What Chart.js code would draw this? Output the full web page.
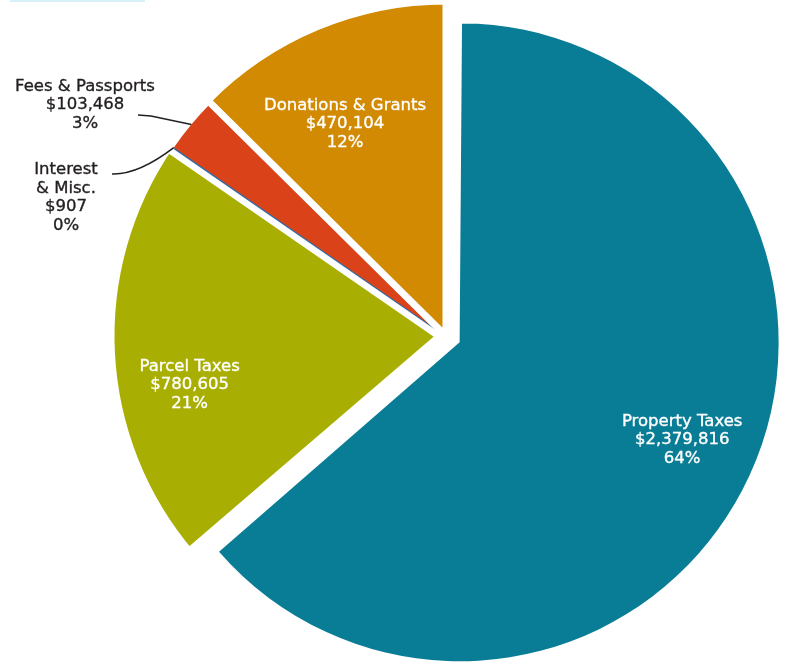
<!DOCTYPE html>
<html>
<head>
<meta charset="utf-8">
<script src="https://cdn.jsdelivr.net/npm/chart.js@4.4.1/dist/chart.umd.min.js"></script>
<style>
    html, body { margin: 0; padding: 0; background: #fff; }
    #wrap { position: relative; width: 788px; height: 662px; overflow: hidden; }
    #topbar { position: absolute; left: 10px; top: 0; width: 135px; height: 2px; background: #d6f2f8; }
</style>
</head>
<body>
<div id="wrap">
    <div id="topbar"></div>
    <canvas id="revenueChart" width="788" height="662"></canvas>
</div>
<script>
// Dữ liệu
const categories = ['Property Taxes', 'Parcel Taxes', 'Interest & Misc.', 'Fees & Passports', 'Donations & Grants'];
const amounts = [2379816, 780605, 907, 103468, 470104];
const percentLabels = ['64%', '21%', '0%', '3%', '12%'];

// Màu và kiểu
const sliceColors = ['#0a7d96', '#a9af02', '#2b6ea6', '#da4219', '#d18a02'];
const sliceBorderColors = ['#ffffff', '#ffffff', '#2b6ea6', '#ffffff', '#ffffff'];
const sliceBorderWidths = [0, 15, 2, 0, 7];
const sliceOffsets = [60, 0, 0, 0, 0];      // Chart.js dịch offset/4 px
const sliceRadius = [304, 339, 330, 331, 335];

// Vị trí nhãn
const nameLines = [['Property Taxes'], ['Parcel Taxes'], ['Interest', '& Misc.'], ['Fees & Passports'], ['Donations & Grants']];
const labelMode = ['inside', 'inside', 'outside', 'outside', 'inside'];
const labelDist = [243, 261, 0, 0, 235];
const labelNudgeDeg = [-1, -7.8, 0, 0, -2.8];
const outsideText = { 2: { x: 66, y: 197.5 }, 3: { x: 85, y: 105 } };
const LINE_H = 18.5;

const formatMoney = (v) => '$' + v.toLocaleString('en-US');

const sliceRadiusPlugin = {
    id: 'sliceRadius',
    afterDatasetUpdate(chart, args) {
        args.meta.data.forEach((arc, i) => { arc.outerRadius = sliceRadius[i]; });
    }
};

function drawLines(ctx, lines, cx, cy) {
    const top = cy - (lines.length - 1) * LINE_H / 2;
    lines.forEach((t, k) => {
        ctx.fillText(t, cx, top + k * LINE_H);
        ctx.strokeText(t, cx, top + k * LINE_H);   // làm chữ đậm hơn một chút
    });
}

const labelPlugin = {
    id: 'sliceLabels',
    afterDatasetsDraw(chart) {
        const ctx = chart.ctx;
        const arcs = chart.getDatasetMeta(0).data;
        ctx.save();
        ctx.font = '16.5px "DejaVu Sans", sans-serif';
        ctx.textAlign = 'center';
        ctx.textBaseline = 'middle';
        arcs.forEach((arc, i) => {
            const { x, y, startAngle, endAngle } = arc.getProps(['x', 'y', 'startAngle', 'endAngle'], true);
            const mid = (startAngle + endAngle) / 2;
            const shift = (sliceOffsets[i] || 0) / 4;
            const cx0 = x + Math.cos(mid) * shift;
            const cy0 = y + Math.sin(mid) * shift;
            const lines = nameLines[i].concat([formatMoney(amounts[i]), percentLabels[i]]);
            ctx.lineWidth = 0.35;
            if (labelMode[i] === 'inside') {
                const a = mid + labelNudgeDeg[i] * Math.PI / 180;
                ctx.fillStyle = '#ffffff';
                ctx.strokeStyle = '#ffffff';
                drawLines(ctx, lines, cx0 + Math.cos(a) * labelDist[i], cy0 + Math.sin(a) * labelDist[i]);
            } else {
                const pos = outsideText[i];
                ctx.fillStyle = '#231f20';
                ctx.strokeStyle = '#231f20';
                drawLines(ctx, lines, pos.x, pos.y);
                // đường dẫn tới mép lát
                const ex = x + Math.cos(mid) * 331;
                const ey = y + Math.sin(mid) * 331;
                ctx.lineWidth = 1.6;
                ctx.beginPath();
                if (i === 3) {
                    ctx.moveTo(138, 115);
                    ctx.lineTo(151, 116);
                    ctx.lineTo(ex, ey);
                } else {
                    ctx.moveTo(112, 174);
                    ctx.quadraticCurveTo(138, 175, ex, ey);
                }
                ctx.stroke();
            }
        });
        ctx.restore();
    }
};

new Chart(document.getElementById('revenueChart'), {
    type: 'pie',
    data: {
        labels: categories,
        datasets: [{
            data: amounts,
            backgroundColor: sliceColors,
            borderColor: sliceBorderColors,
            borderWidth: sliceBorderWidths,
            offset: sliceOffsets,
            radius: 335
        }]
    },
    options: {
        responsive: false,
        animation: false,
        events: [],
        radius: 335,
        layout: { padding: { left: 104, top: 10, right: 0, bottom: 0 } },
        plugins: { legend: { display: false }, tooltip: { enabled: false } }
    },
    plugins: [sliceRadiusPlugin, labelPlugin]
});
</script>
</body>
</html>
